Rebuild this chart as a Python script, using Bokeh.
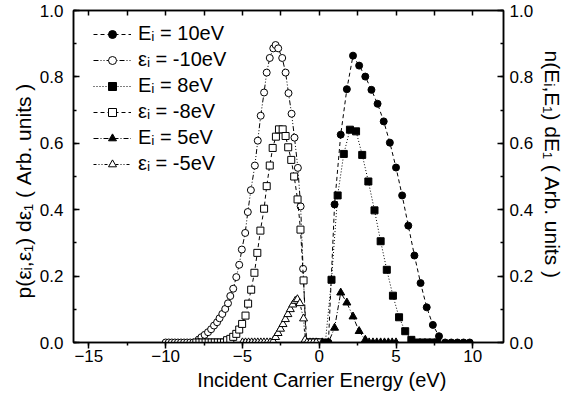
from bokeh.plotting import figure
from bokeh.models import (LinearAxis, Range1d, SingleIntervalTicker, FixedTicker, Legend,
                          LegendItem, PrintfTickFormatter)
from bokeh.embed import file_html
from bokeh.resources import INLINE

# ---------------- data ----------------
E10_x = [0.2, 0.6, 1.0, 1.4, 1.8, 2.2, 2.6, 3.0, 3.4, 3.8, 4.2, 4.6, 5.0, 5.4, 5.8,
         6.2, 6.6, 7.0, 7.4, 7.8, 8.2, 8.6, 9.0, 9.4, 9.8]
E10_y = [0.0, 0.0, 0.416, 0.626, 0.763, 0.864, 0.834, 0.801, 0.761, 0.719, 0.666, 0.602,
         0.527, 0.443, 0.352, 0.262, 0.179, 0.106, 0.053, 0.019, 0.0, 0.0, 0.0, 0.0, 0.0]

E8_x = [0.0, 0.4, 0.8, 1.2, 1.6, 2.0, 2.4, 2.8, 3.2, 3.6, 4.0, 4.4, 4.8, 5.2, 5.6, 6.0,
        6.4, 6.72, 7.04, 7.36, 7.68]
E8_y = [0.0, 0.0, 0.189, 0.443, 0.568, 0.641, 0.636, 0.565, 0.485, 0.398, 0.305, 0.219,
        0.141, 0.076, 0.034, 0.008, 0.0, 0.0, 0.0, 0.0, 0.0]

E5_x = [0.2, 0.6, 1.0, 1.4, 1.8, 2.2, 2.6, 3.0, 3.25, 3.5, 3.75, 4.0, 4.25, 4.5, 4.75, 5.0]
E5_y = [0.0, 0.0, 0.044, 0.150, 0.120, 0.078, 0.034, 0.008, 0.0, 0.0, 0.0, 0.0, 0.0, 0.0,
        0.0, 0.0]

eps10_x = [-10.0, -9.8, -9.6, -9.4, -9.2, -9.0, -8.8, -8.6, -8.4, -8.2, -8.0, -7.85, -7.67,
           -7.46, -7.24, -7.04, -6.85, -6.65, -6.49, -6.31, -6.12, -5.94, -5.79, -5.6, -5.4,
           -5.21, -5.04, -4.82, -4.65, -4.45, -4.19, -4.0, -3.81, -3.59, -3.42, -3.22, -2.99,
           -2.84, -2.67, -2.41, -2.19, -2.0, -1.8, -1.61, -1.39, -1.21, -1.05, -0.85, -0.65,
           -0.45, -0.25, -0.05]
eps10_y = [0.0, 0.0, 0.0, 0.0, 0.0, 0.0, 0.0, 0.0, 0.0, 0.0, 0.0, 0.009, 0.016,
           0.023, 0.031, 0.040, 0.051, 0.061, 0.073, 0.086, 0.101, 0.118, 0.140, 0.162, 0.197,
           0.234, 0.280, 0.330, 0.393, 0.459, 0.533, 0.608, 0.683, 0.753, 0.813, 0.857, 0.886,
           0.896, 0.886, 0.857, 0.813, 0.751, 0.689, 0.617, 0.526, 0.410, 0.222, 0.0, 0.0,
           0.0, 0.0, 0.0]

eps8_x = [-8.0, -7.8, -7.6, -7.4, -7.2, -7.0, -6.8, -6.6, -6.4, -6.2, -6.0, -5.79, -5.6,
          -5.4, -5.21, -5.02, -4.8, -4.63, -4.43, -4.22, -4.03, -3.83, -3.59, -3.42, -3.22,
          -3.03, -2.82, -2.62, -2.38, -2.19, -2.02, -1.82, -1.63, -1.41, -1.22, -1.02, -0.82,
          -0.62, -0.42, -0.22, -0.02]
eps8_y = [0.0, 0.0, 0.0, 0.0, 0.0, 0.0, 0.0, 0.0, 0.0, 0.0, 0.007, 0.011, 0.017,
          0.026, 0.039, 0.056, 0.081, 0.117, 0.159, 0.210, 0.270, 0.337, 0.403, 0.471, 0.533,
          0.586, 0.620, 0.642, 0.642, 0.622, 0.588, 0.550, 0.500, 0.431, 0.340, 0.187, 0.0,
          0.0, 0.0, 0.0, 0.0]

eps5_x = [-5.0, -4.8, -4.6, -4.4, -4.2, -4.0, -3.8, -3.6, -3.4, -3.2, -3.0, -2.84, -2.68,
          -2.52, -2.36, -2.2, -2.04, -1.88, -1.72, -1.56, -1.42, -1.26, -1.02, -0.92, -0.8,
          -0.6, -0.4, -0.2]
eps5_y = [0.0, 0.0, 0.0, 0.0, 0.0, 0.0, 0.0, 0.0, 0.0, 0.0, 0.004, 0.016, 0.028,
          0.041, 0.055, 0.070, 0.085, 0.100, 0.114, 0.125, 0.130, 0.118, 0.072, 0.008, 0.0,
          0.0, 0.0, 0.0]

x_ticks_interval = 5
y_ticks_interval = 0.2
top_ticks = [-15, -12.5, -10, -7.5, -5, -2.5, 0, 2.5, 5, 7.5, 10]

labels = ["E\u1d62 = 10eV", "\u03b5\u1d62 = -10eV", "E\u1d62 = 8eV",
          "\u03b5\u1d62 = -8eV", "E\u1d62 = 5eV", "\u03b5\u1d62 = -5eV"]
# the title sits right of the frame centre in the original: pad with no-break spaces
x_label = "\u00a0" * 12 + "Incident Carrier Energy (eV)"
left_label = "p(\u03b5\u1d62,\u03b5\u2081)   d\u03b5\u2081 (  Arb.  units  )"
right_label = "n(E\u1d62,E\u2081)  dE\u2081 (  Arb.  units  )"

FONT = "Liberation Sans"

p = figure(width=567, height=407, x_range=Range1d(-16, 12), y_range=Range1d(0, 1),
           output_backend="svg", toolbar_location=None,
           min_border_left=73, min_border_right=63, min_border_top=10, min_border_bottom=65)
p.background_fill_color = "white"
p.border_fill_color = "white"
p.outline_line_color = "black"
p.outline_line_width = 1.5
p.xgrid.visible = False
p.ygrid.visible = False

series = [
    (E10_x, E10_y, "circle", True, "4 3", labels[0]),
    (eps10_x, eps10_y, "circle", False, "5 2 1 2 1 2", labels[1]),
    (E8_x, E8_y, "square", True, "1 2", labels[2]),
    (eps8_x, eps8_y, "square", False, "4 3", labels[3]),
    (E5_x, E5_y, "triangle", True, "5 2 1 2", labels[4]),
    (eps5_x, eps5_y, "triangle", False, "3 2 1 2 1 2", labels[5]),
]

items = []
for xs, ys, mk, filled, dash, lab in series:
    r1 = p.line(xs, ys, line_color="black", line_width=1, line_dash=dash)
    size = 8 if mk == "triangle" else 7
    r2 = p.scatter(xs, ys, marker=mk, size=size, line_color="black", line_width=1,
                   fill_color="black" if filled else "white")
    items.append(LegendItem(label=lab, renderers=[r1, r2]))

legend = Legend(items=items, location=(20, 167), orientation="vertical",
                glyph_width=38, glyph_height=20, label_height=20, spacing=3,
                label_standoff=7, padding=0, margin=0,
                background_fill_alpha=0, border_line_alpha=0,
                label_text_font=FONT, label_text_font_size="20px", label_text_color="black")
p.add_layout(legend, "center")

def style_axis(ax, tick_in=True):
    ax.axis_line_width = 1.5
    ax.axis_line_color = "black"
    ax.major_tick_line_width = 1.5
    ax.minor_tick_line_width = 1.5
    if tick_in:
        ax.major_tick_in = 6
        ax.major_tick_out = 0
        ax.minor_tick_in = 3
        ax.minor_tick_out = 0
    else:
        ax.major_tick_in = 0
        ax.major_tick_out = 6
        ax.minor_tick_in = 0
        ax.minor_tick_out = 3
    ax.major_label_text_font = FONT
    ax.major_label_text_font_size = "17px"
    ax.major_label_text_color = "black"
    ax.axis_label_text_font = FONT
    ax.axis_label_text_font_size = "20px"
    ax.axis_label_text_font_style = "normal"
    ax.axis_label_text_color = "black"

xa = p.xaxis[0]
xa.ticker = SingleIntervalTicker(interval=x_ticks_interval, num_minor_ticks=2)
xa.axis_label = x_label
style_axis(xa, tick_in=False)
xa.major_label_standoff = 1
xa.axis_label_standoff = 4

ya = p.yaxis[0]
ya.ticker = SingleIntervalTicker(interval=y_ticks_interval, num_minor_ticks=2)
ya.axis_label = left_label
ya.formatter = PrintfTickFormatter(format="%.1f")
style_axis(ya)
ya.axis_label_text_font_size = "21px"
ya.major_label_standoff = 10
ya.axis_label_standoff = 2

p.extra_y_ranges = {"right": Range1d(0, 1)}
ra = LinearAxis(y_range_name="right",
                ticker=SingleIntervalTicker(interval=y_ticks_interval, num_minor_ticks=2),
                formatter=PrintfTickFormatter(format="%.1f"), axis_label=right_label)
style_axis(ra)
ra.axis_label_text_font_size = "21px"
ra.major_label_standoff = 6
ra.axis_label_standoff = 5
p.add_layout(ra, "right")

ta = LinearAxis(ticker=FixedTicker(ticks=[], minor_ticks=top_ticks))
style_axis(ta)
ta.minor_tick_in = 5
ta.major_label_standoff = 0
p.add_layout(ta, "above")

open("out.html", "w").write(file_html(p, INLINE))
